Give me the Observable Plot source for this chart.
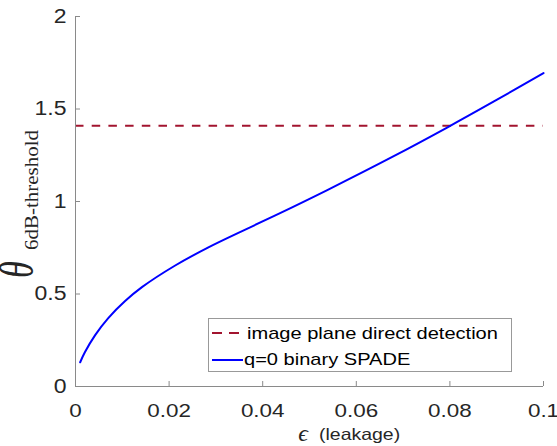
<!DOCTYPE html>
<html>
<head>
<meta charset="utf-8">
<script src="https://cdn.jsdelivr.net/npm/d3@7"></script>
<script src="https://cdn.jsdelivr.net/npm/@observablehq/plot@0.6"></script>
<style>
  html, body { margin: 0; padding: 0; background: #fff; }
  #chart { position: relative; width: 557px; height: 446px; }
</style>
</head>
<body>
<div id="chart"></div>
<script>
// ---- data ----
const epsValues = [0.001, 0.002, 0.0042, 0.007, 0.0106, 0.0142, 0.0213, 0.0284, 0.0356, 0.0427, 0.0538, 0.068, 0.0795, 0.0895, 0.1];
const thetaValues = [0.131, 0.185, 0.278, 0.370, 0.462, 0.537, 0.654, 0.752, 0.840, 0.925, 1.062, 1.245, 1.401, 1.542, 1.694];
const directDetection = 1.41;
const xTicks = [0, 0.02, 0.04, 0.06, 0.08, 0.1];
const xTickLabels = ["0", "0.02", "0.04", "0.06", "0.08", "0.1"];
const yTicks = [0, 0.5, 1, 1.5, 2];
const yTickLabels = ["0", "0.5", "1", "1.5", "2"];
const seriesNames = ["image plane direct detection", "q=0 binary SPADE"];
const seriesColors = ["#a2142f", "#0000ff"];

const curve = epsValues.map((e, i) => ({eps: e, theta: thetaValues[i]}));

const axisGray = "#8a8a8a";
const textColor = "#262626";
const sans = "'Liberation Sans', Arial, Helvetica, sans-serif";
const serif = "'Liberation Serif', 'Times New Roman', serif";
const STRETCH = 1.18;

const svg = Plot.plot({
  width: 557,
  height: 446,
  marginLeft: 75,
  marginRight: 14,
  marginTop: 16,
  marginBottom: 60,
  style: {fontFamily: sans, background: "#fff", overflow: "visible"},
  x: {domain: [0, 0.1]},
  y: {domain: [0, 2]},
  marks: [
    Plot.ruleY([directDetection], {stroke: seriesColors[0], strokeWidth: 2, strokeDasharray: "8.5,8.2"}),
    Plot.line(curve, {x: "eps", y: "theta", stroke: seriesColors[1], strokeWidth: 2, curve: "catmull-rom"}),
    Plot.ruleX([0], {stroke: axisGray}),
    Plot.ruleY([0], {stroke: axisGray}),
    Plot.axisX(xTicks, {
      tickSize: -5, tickPadding: 22, stroke: axisGray, fill: textColor, fontSize: 19,
      tickFormat: d => xTickLabels[xTicks.indexOf(d)], label: null
    }),
    Plot.axisY(yTicks, {
      tickSize: -5, tickPadding: 14, stroke: axisGray, fill: textColor, fontSize: 19.5,
      tickFormat: d => yTickLabels[yTicks.indexOf(d)], label: null
    })
  ]
});

document.getElementById("chart").appendChild(svg);

const root = d3.select(svg);

function stretch(sel, k) {
  sel.each(function() {
    const L = this.getComputedTextLength();
    this.setAttribute("textLength", (L * k).toFixed(2));
    this.setAttribute("lengthAdjust", "spacingAndGlyphs");
  });
}

// stretch tick labels horizontally (reference text is wide)
stretch(root.selectAll("g[aria-label='x-axis tick label'] text, g[aria-label='y-axis tick label'] text"), STRETCH);

// ---- x label ----
root.append("text")
  .attr("x", 303).attr("y", 441)
  .attr("text-anchor", "middle")
  .attr("font-family", serif).attr("font-style", "italic").attr("font-size", 24)
  .attr("fill", textColor)
  .text("ϵ");
const xl = root.append("text")
  .attr("x", 319).attr("y", 440)
  .attr("text-anchor", "start")
  .attr("font-family", sans).attr("font-size", 16.5)
  .attr("fill", textColor)
  .text("(leakage)");
stretch(xl, STRETCH);

// ---- y label (rotated) ----
root.append("text")
  .attr("transform", "translate(33,278) rotate(-90) scale(1,1.4)")
  .attr("text-anchor", "start")
  .attr("font-family", serif).attr("font-style", "italic").attr("font-size", 34)
  .attr("fill", textColor)
  .text("θ");
root.append("text")
  .attr("transform", "translate(38,250) rotate(-90)")
  .attr("text-anchor", "start")
  .attr("font-family", serif).attr("font-size", 19)
  .attr("textLength", 120).attr("lengthAdjust", "spacingAndGlyphs")
  .attr("fill", textColor)
  .text("6dB-threshold");

// ---- legend ----
const lg = root.append("g").attr("aria-label", "legend").attr("text-anchor", "start");
lg.append("rect")
  .attr("x", 208.5).attr("y", 318.5).attr("width", 303).attr("height", 53)
  .attr("fill", "#fff").attr("stroke", "#999").attr("stroke-width", 1);
lg.append("line")
  .attr("x1", 212).attr("x2", 239).attr("y1", 333).attr("y2", 333)
  .attr("stroke", seriesColors[0]).attr("stroke-width", 2).attr("stroke-dasharray", "10,7");
lg.append("line")
  .attr("x1", 212).attr("x2", 243).attr("y1", 360).attr("y2", 360)
  .attr("stroke", seriesColors[1]).attr("stroke-width", 2);
const lt1 = lg.append("text").attr("x", 247).attr("y", 339).attr("text-anchor", "start")
  .attr("font-family", sans).attr("font-size", 17).attr("fill", "#000").text(seriesNames[0]);
const lt2 = lg.append("text").attr("x", 244).attr("y", 365).attr("text-anchor", "start")
  .attr("font-family", sans).attr("font-size", 17).attr("fill", "#000").text(seriesNames[1]);
stretch(lt1, STRETCH);
stretch(lt2, STRETCH);
</script>
</body>
</html>
